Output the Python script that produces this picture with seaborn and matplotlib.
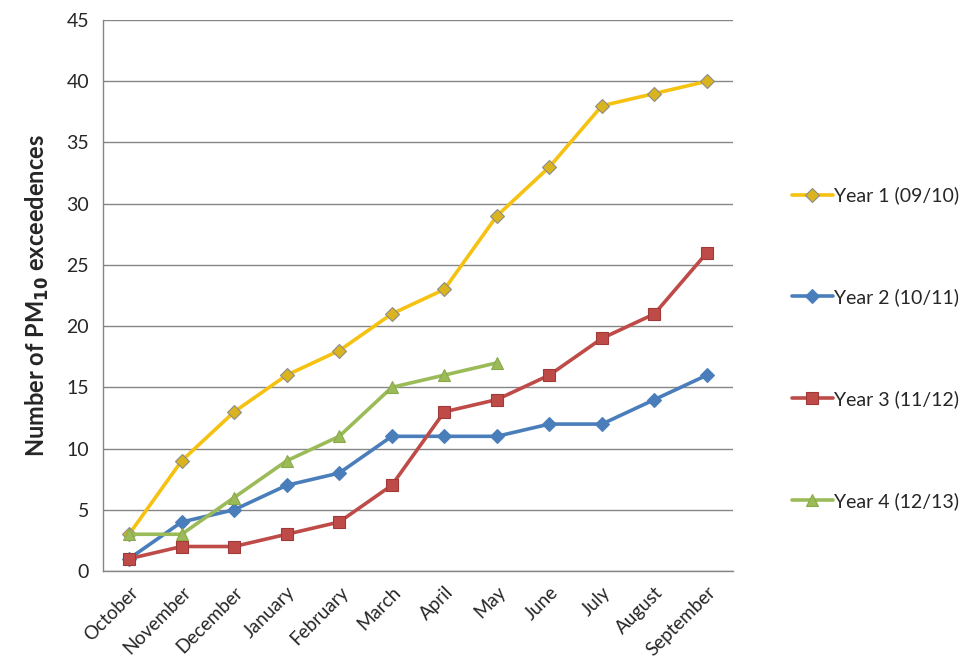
import matplotlib
matplotlib.use("Agg")
import matplotlib.pyplot as plt
import seaborn as sns
import numpy as np
import pandas as pd

months = ["October", "November", "December", "January", "February", "March",
          "April", "May", "June", "July", "August", "September"]
year1 = [3, 9, 13, 16, 18, 21, 23, 29, 33, 38, 39, 40]
year2 = [1, 4, 5, 7, 8, 11, 11, 11, 12, 12, 14, 16]
year3 = [1, 2, 2, 3, 4, 7, 13, 14, 16, 19, 21, 26]
year4 = [3, 3, 6, 9, 11, 15, 16, 17]
series_names = ["Year 1 (09/10)", "Year 2 (10/11)", "Year 3 (11/12)", "Year 4 (12/13)"]
yticks = [0, 5, 10, 15, 20, 25, 30, 35, 40, 45]

sns.set_style("white")
plt.rcParams['font.family'] = ['Lato', 'DejaVu Sans']

fig = plt.figure(figsize=(9.61, 6.69), dpi=100)
ax = fig.add_axes([0.107, 0.1465, 0.656, 0.8235])

styles = [
    dict(color="#F5C211", marker="D", ms=7.5, mfc="#D9B41E", mec="#8C8C8C", mew=0.8),
    dict(color="#4A7EBB", marker="D", ms=7.5, mfc="#4A7EBB", mec="#4A7EBB", mew=0.8),
    dict(color="#BE4B48", marker="s", ms=9, mfc="#BE4B48", mec="#A03A38", mew=0.8),
    dict(color="#9BBB59", marker="^", ms=9, mfc="#9BBB59", mec="#8AAA4A", mew=0.8),
]
data = [year1, year2, year3, year4]
for name, vals, st in zip(series_names, data, styles):
    df = pd.DataFrame({"x": np.arange(len(vals)), "y": vals})
    sns.lineplot(data=df, x="x", y="y", ax=ax, color=st["color"], lw=2.6,
                 marker=st["marker"], markersize=st["ms"], markerfacecolor=st["mfc"],
                 markeredgecolor=st["mec"], markeredgewidth=st["mew"], label=name,
                 legend=False)

ax.set_xlim(-0.5, len(months) - 0.5)
ax.set_ylim(0, 45)
ax.set_yticks(yticks)
ax.set_xticks(np.arange(len(months)))
ax.set_xticklabels(months, rotation=45, ha="right", rotation_mode="anchor", fontsize=13.5)
ax.set_xticks(np.arange(-0.5, len(months)), minor=True)
ax.tick_params(axis="x", which="major", length=0, pad=9)
ax.tick_params(axis="x", which="minor", length=5, width=1, color="#868686", direction="out")
ax.tick_params(axis="y", length=5, width=1, color="#868686", direction="out", labelsize=14, pad=5)
ax.yaxis.grid(True, color="#868686", lw=1)
ax.set_axisbelow(True)
for s in ["top", "right"]:
    ax.spines[s].set_visible(False)
for s in ["left", "bottom"]:
    ax.spines[s].set_color("#868686")
    ax.spines[s].set_linewidth(1)
ax.set_xlabel("")
ax.set_ylabel(r"Number of PM$_{\mathbf{10}}$ exceedences", fontsize=17, fontweight="bold", labelpad=11)

handles, labels = ax.get_legend_handles_labels()
leg = fig.legend(handles, labels, loc="upper left", bbox_to_anchor=(0.814, 0.7355),
                 frameon=False, fontsize=14, labelspacing=4.31, handlelength=2.1,
                 handletextpad=0.05, borderpad=0)

fig.savefig("out.png", dpi=100)
